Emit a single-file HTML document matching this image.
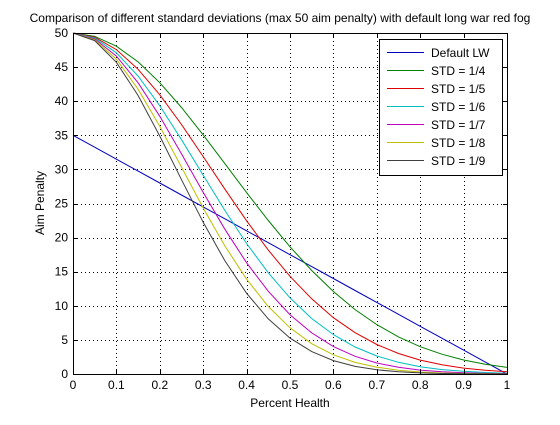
<!DOCTYPE html>
<html><head><meta charset="utf-8"><style>
body{margin:0;background:#fff;}
svg text{font-family:"Liberation Sans",Arial,sans-serif;font-size:12px;fill:#000;}
</style></head><body>
<svg id="chart" width="560" height="420" xmlns="http://www.w3.org/2000/svg">
<rect x="0" y="0" width="560" height="420" fill="#fff"/>
<text x="280" y="22" text-anchor="middle">Comparison of different standard deviations (max 50 aim penalty) with default long war red fog</text>
<g id="grid"></g><g id="series"></g><g id="axes"></g><g id="legend"></g>
<text x="290" y="407" text-anchor="middle">Percent Health</text>
<text transform="translate(44,203) rotate(-90)" text-anchor="middle">Aim Penalty</text>
</svg>
<script>
const xVals=[0,0.05,0.1,0.15,0.2,0.25,0.3,0.35,0.4,0.45,0.5,0.55,0.6,0.65,0.7,0.75,0.8,0.85,0.9,0.95,1];
const defaultLW=[35,33.25,31.5,29.75,28,26.25,24.5,22.75,21,19.25,17.5,15.75,14,12.25,10.5,8.75,7,5.25,3.5,1.75,0];
const std4=[50,49.51,48.07,45.76,42.71,39.08,35.06,30.84,26.60,22.51,18.65,15.17,12.10,9.45,7.24,5.44,4.01,2.90,2.05,1.42,0.97];
const std5=[50,49.38,47.56,44.68,40.94,36.58,31.88,27.10,22.47,18.16,14.33,11.02,8.26,6.05,4.32,3.01,2.04,1.35,0.87,0.55,0.34];
const std6=[50,49.26,47.09,43.68,39.33,34.36,29.14,23.97,19.14,14.84,11.16,8.14,5.77,3.96,2.64,1.71,1.07,0.65,0.39,0.22,0.12];
const std7=[50,49.13,46.62,42.70,37.79,32.28,26.63,21.21,16.31,12.12,8.69,6.02,4.02,2.60,1.62,0.98,0.57,0.32,0.17,0.09,0.05];
const std8=[50,49.01,46.16,41.76,36.31,30.33,24.34,18.77,13.90,9.90,6.77,4.45,2.81,1.70,0.99,0.56,0.30,0.15,0.08,0.04,0.02];
const std9=[50,48.89,45.70,40.83,34.88,28.49,22.24,16.60,11.84,8.08,5.27,3.28,1.96,1.12,0.61,0.32,0.16,0.08,0.03,0.02,0.01];
const seriesNames=["Default LW","STD = 1/4","STD = 1/5","STD = 1/6","STD = 1/7","STD = 1/8","STD = 1/9"];
const xTicks=[0,0.1,0.2,0.3,0.4,0.5,0.6,0.7,0.8,0.9,1];
const xTickLabels=["0","0.1","0.2","0.3","0.4","0.5","0.6","0.7","0.8","0.9","1"];
const yTicks=[0,5,10,15,20,25,30,35,40,45,50];

const NS="http://www.w3.org/2000/svg";
const L=73,R=507,T=33,B=374;
const sx=v=>L+(R-L)*v, sy=v=>B-(B-T)*v/50;
function mk(tag,attrs,parent){const e=document.createElementNS(NS,tag);for(const k in attrs)e.setAttribute(k,attrs[k]);parent.appendChild(e);return e;}
const grid=document.getElementById('grid'),axes=document.getElementById('axes'),ser=document.getElementById('series'),leg=document.getElementById('legend');
const dash={"stroke":"#000","stroke-width":1,"stroke-dasharray":"1,3","shape-rendering":"crispEdges"};
xTicks.forEach((t,i)=>{
 const x=Math.round(sx(t))+0.5;
 const g=mk('line',Object.assign({x1:x,x2:x,y1:T,y2:B},dash),grid);
 
 
 const tk=mk('line',{x1:x,x2:x,y1:B,y2:B-4,stroke:"#000"},axes);
 
 
 const tt=mk('line',{x1:x,x2:x,y1:T,y2:T+4,stroke:"#000"},axes);
 
 
 const lb=mk('text',{x:sx(t),y:B+15,"text-anchor":"middle"},axes);lb.textContent=xTickLabels[i];
 
 
});
yTicks.forEach(t=>{
 const y=Math.round(sy(t))+0.5;
 const g=mk('line',Object.assign({x1:L,x2:R,y1:y,y2:y},dash),grid);
 
 
 const tk=mk('line',{x1:L,x2:L+4,y1:y,y2:y,stroke:"#000"},axes);
 
 
 const tr=mk('line',{x1:R,x2:R-4,y1:y,y2:y,stroke:"#000"},axes);
 
 
 const lb=mk('text',{x:L-5,y:sy(t)+4,"text-anchor":"end"},axes);lb.textContent=String(t);
 
 
});
const box=mk('rect',{x:L+0.5,y:T+0.5,width:R-L,height:B-T,fill:"none",stroke:"#000"},axes);


const data=[defaultLW,std4,std5,std6,std7,std8,std9];
const colors=["#0000bf","#007f00","#df0000","#00bfbf","#bf00bf","#bfbf00","#3f3f3f"];
const keys=["default-lw","std-1-4","std-1-5","std-1-6","std-1-7","std-1-8","std-1-9"];
data.forEach((d,i)=>{
 const pts=d.map((v,j)=>sx(xVals[j]).toFixed(1)+","+sy(v).toFixed(1)).join(" ");
 const p=mk('polyline',{points:pts,fill:"none",stroke:colors[i],"stroke-width":1},ser);
 
 
});
const lb=mk('rect',{x:379.5,y:39.5,width:123,height:136,fill:"#fff",stroke:"#000"},leg);


seriesNames.forEach((n,i)=>{
 const y=52.5+i*18;
 const g=mk('g',{},leg);
 
 
 mk('line',{x1:387,x2:424,y1:y,y2:y,stroke:colors[i]},g);
 const t=mk('text',{x:431,y:y+4.5},g);t.textContent=n;
});
</script>
</body></html>
